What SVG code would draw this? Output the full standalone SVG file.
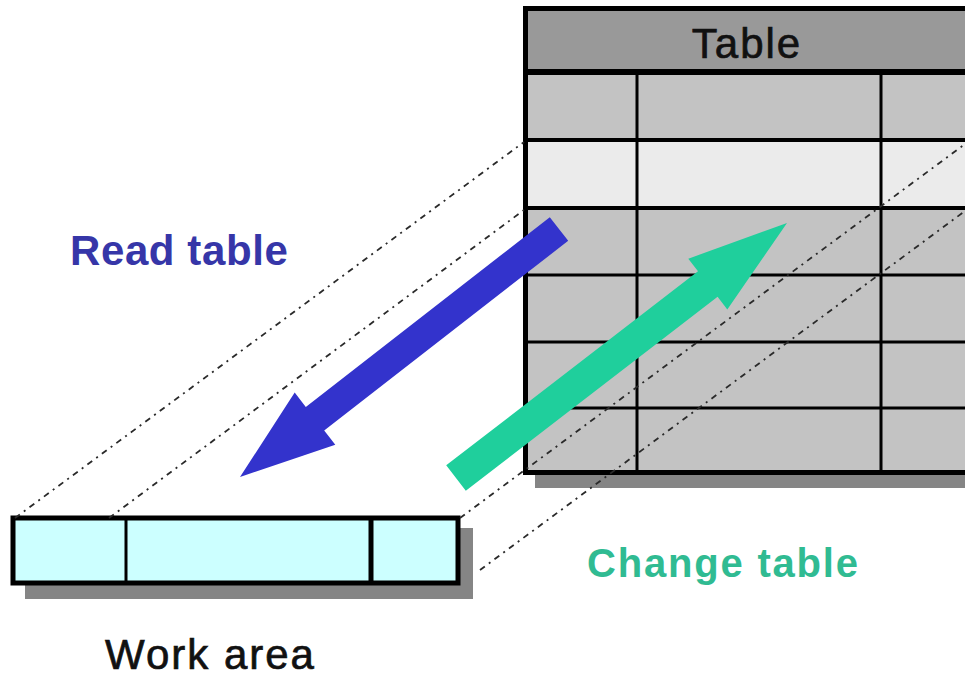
<svg xmlns="http://www.w3.org/2000/svg" width="965" height="678" viewBox="0 0 965 678">
  <style>
    .grid { stroke: #000; stroke-width: 3; fill: none; }
    .thick { stroke: #000; stroke-width: 5; fill: none; }
    .proj { stroke: #2a2a2a; stroke-width: 1.8; stroke-dasharray: 6 5 2 5; fill: none; }
    .shadow { fill: #858585; }
    .label { font-family: "Liberation Sans", Arial, sans-serif; }
    .caption { fill: #111; stroke: #111; stroke-width: 0.7; }
  </style>
  <rect width="965" height="678" fill="#ffffff"/>

  <!-- Database table -->
  <g id="table">
    <rect class="shadow" x="535" y="474" width="440" height="14"/>
    <rect x="525" y="8" width="460" height="464" fill="#c3c3c3"/>
    <rect x="525" y="8" width="460" height="64" fill="#999999"/>
    <rect x="525" y="141" width="460" height="67" fill="#ebebeb"/>
    <line class="grid" x1="637" y1="72" x2="637" y2="472"/>
    <line class="grid" x1="881" y1="72" x2="881" y2="472"/>
    <line x1="525" y1="72" x2="985" y2="72" stroke="#000" stroke-width="6"/>
    <line x1="525" y1="140" x2="985" y2="140" stroke="#000" stroke-width="4"/>
    <line x1="525" y1="208" x2="985" y2="208" stroke="#000" stroke-width="4"/>
    <line class="grid" x1="525" y1="275" x2="985" y2="275"/>
    <line class="grid" x1="525" y1="342" x2="985" y2="342"/>
    <line class="grid" x1="525" y1="408" x2="985" y2="408"/>
    <rect x="525.5" y="8.5" width="460" height="464" stroke="#000" stroke-width="5" fill="none"/>
    <text class="label caption" x="747" y="58" font-size="42" letter-spacing="2" text-anchor="middle">Table</text>
  </g>

  <!-- Work area row buffer -->
  <g id="work-area">
    <rect class="shadow" x="25" y="528" width="448" height="71"/>
    <rect x="13" y="518" width="445" height="65" fill="#ccffff" stroke="#000" stroke-width="5"/>
    <line class="grid" x1="126" y1="518" x2="126" y2="583"/>
    <line class="thick" x1="371" y1="518" x2="371" y2="583"/>
    <text class="label caption" x="105" y="669" font-size="42" letter-spacing="2">Work area</text>
  </g>

  <!-- Projection lines between work area and table row -->
  <g id="connectors">
    <line class="proj" x1="15" y1="518" x2="524" y2="142"/>
    <line class="proj" x1="109" y1="518" x2="524" y2="210"/>
    <line class="proj" x1="460" y1="518" x2="965" y2="144"/>
    <line class="proj" x1="480" y1="570" x2="965" y2="211"/>
  </g>

  <!-- Read table: table to work area -->
  <g id="read-table">
    <polygon fill="#3333cc" points="549.8,217.2 568.2,240.8 324.2,430.5 335.3,444.8 240,477 294.7,392.6 305.8,406.9"/>
    <text class="label" x="70" y="265" font-size="42" font-weight="bold" letter-spacing="0.6" fill="#3636a8">Read table</text>
  </g>

  <!-- Change table: work area to table -->
  <g id="change-table">
    <polygon fill="#1fcf9c" points="446.2,465.3 698.0,271.3 688.3,258.7 787,223 727.3,309.4 717.6,296.7 465.8,490.7"/>
    <text class="label" x="587" y="577" font-size="40" font-weight="bold" letter-spacing="1.8" fill="#30bb92">Change table</text>
  </g>
</svg>
